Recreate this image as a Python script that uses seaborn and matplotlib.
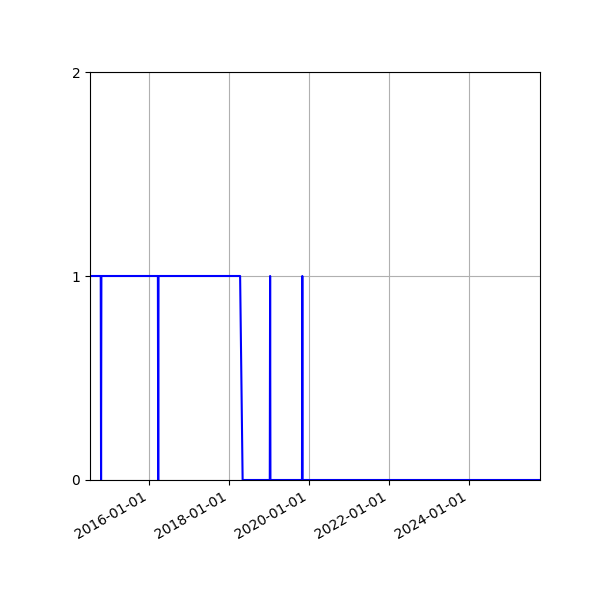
import matplotlib
matplotlib.use("Agg")
import matplotlib.pyplot as plt
import matplotlib.dates as mdates
import seaborn as sns
import pandas as pd

# status series (1 = on, 0 = off)
dates = ["2014-07-11", "2014-10-17", "2014-10-20", "2014-10-23",
         "2016-03-22", "2016-03-25", "2016-03-28",
         "2018-04-12", "2018-05-05",
         "2019-01-08", "2019-01-11", "2019-01-14",
         "2019-10-29", "2019-11-01", "2019-11-04",
         "2025-10-11"]
status = [1, 1, 0, 1,
          1, 0, 1,
          1, 0,
          0, 1, 0,
          0, 1, 0,
          0]

df = pd.DataFrame({"date": pd.to_datetime(dates), "status": status})

fig, ax = plt.subplots(figsize=(6, 6), dpi=100)
sns.lineplot(data=df, x="date", y="status", color="blue", ax=ax)

ax.set_xlim(df["date"].min(), df["date"].max())
ax.set_ylim(0, 2)
ax.set_yticks([0, 1, 2])
ax.xaxis.set_major_locator(mdates.YearLocator(2))
ax.xaxis.set_major_formatter(mdates.DateFormatter("%Y-%m-%d"))
ax.set_xlabel("")
ax.set_ylabel("")
ax.grid(True)
fig.autofmt_xdate()
plt.subplots_adjust(left=0.15, right=0.9, top=0.88, bottom=0.2)
plt.savefig("out.png")
